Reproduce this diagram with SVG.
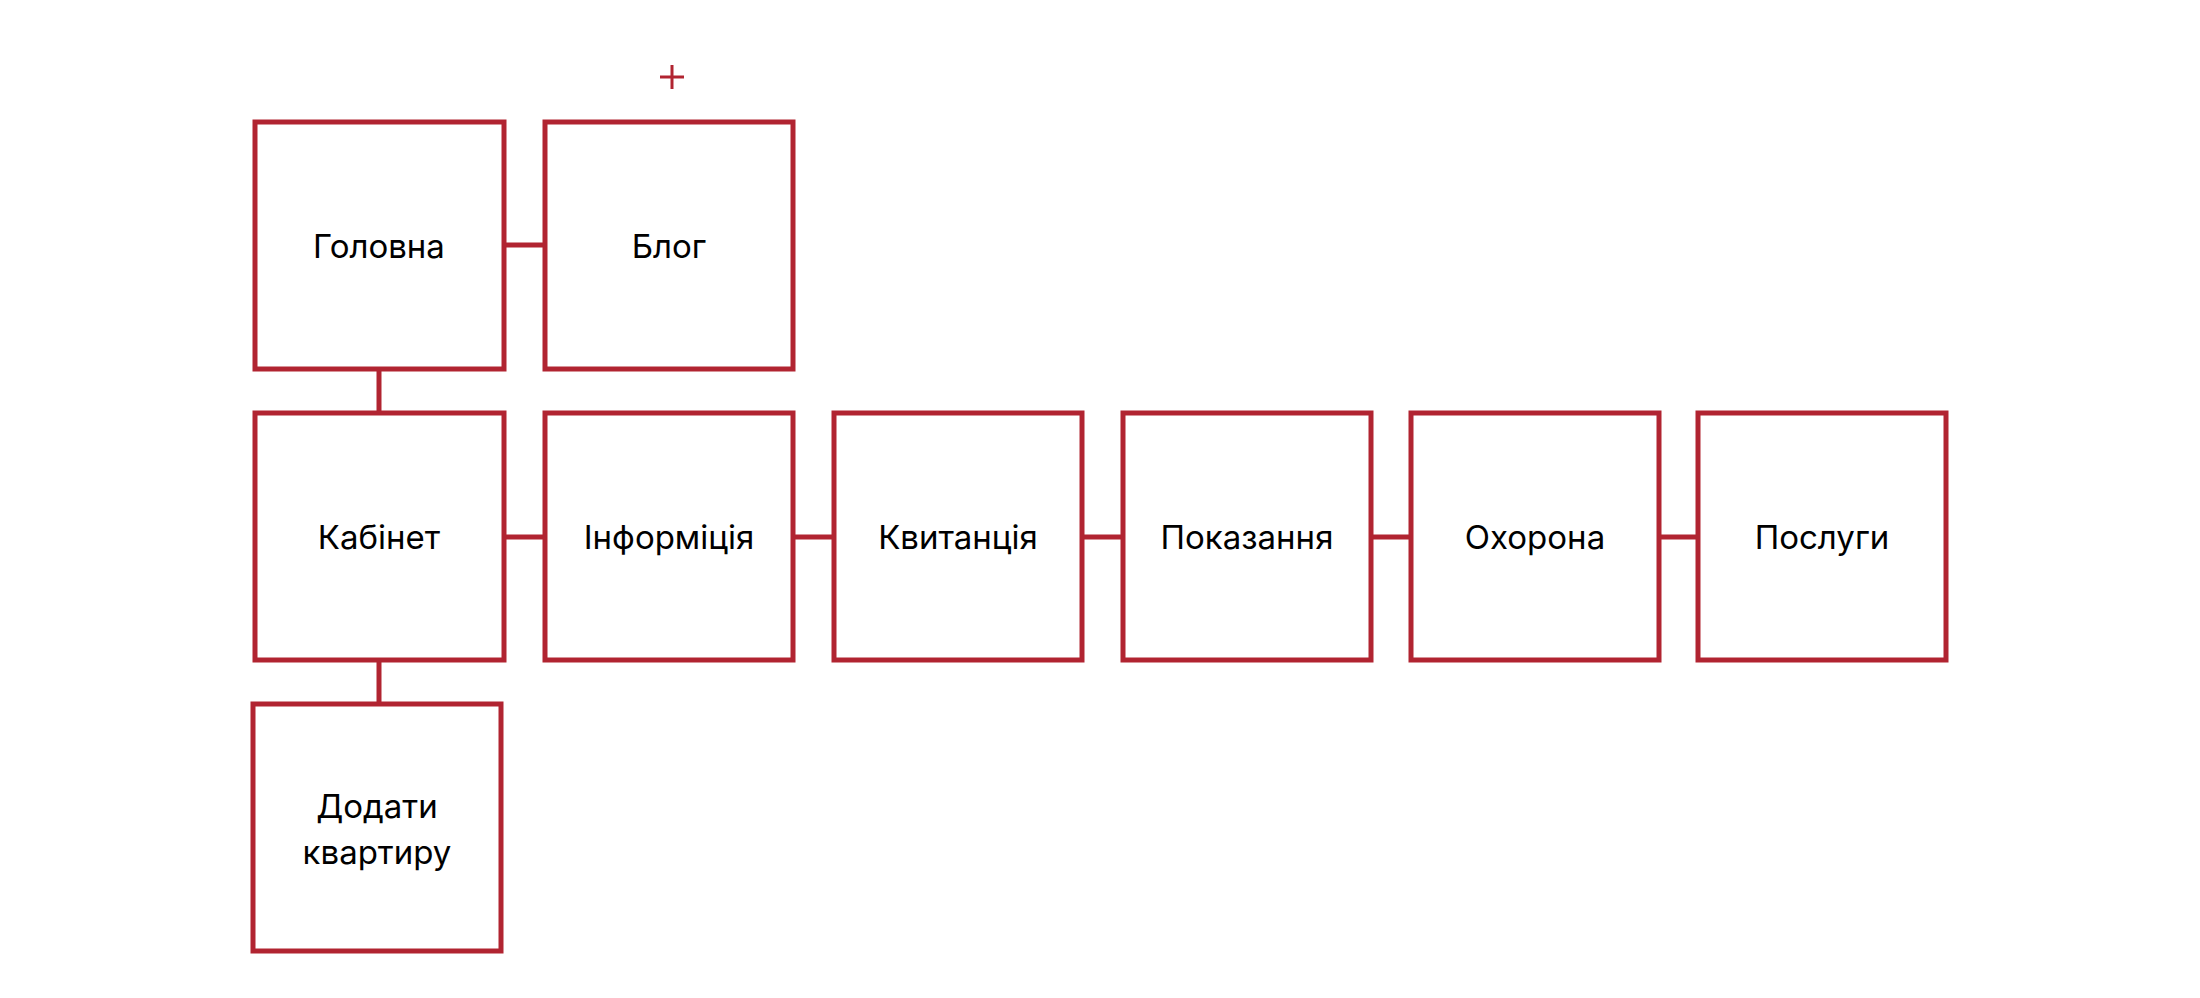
<svg xmlns="http://www.w3.org/2000/svg" width="2200" height="998" viewBox="0 0 2200 998">
<style>
.b{fill:#fff;stroke:#B12431;stroke-width:5}
.c line{stroke:#B12431;stroke-width:5}
text{font-family:Inter,"Noto Sans",sans-serif;font-size:33px;fill:#000;text-anchor:middle;dominant-baseline:central}
</style>
<rect width="2200" height="998" fill="#fff"/>
<g class="c">
<line x1="504" y1="245" x2="545" y2="245"/>
<line x1="379" y1="369" x2="379" y2="413"/>
<line x1="379" y1="659" x2="379" y2="704"/>
<line x1="504" y1="537" x2="545" y2="537"/>
<line x1="793" y1="537" x2="834" y2="537"/>
<line x1="1082" y1="537" x2="1123" y2="537"/>
<line x1="1371" y1="537" x2="1411" y2="537"/>
<line x1="1659" y1="537" x2="1698" y2="537"/>
<line x1="660" y1="77" x2="684" y2="77" style="stroke-width:3"/>
<line x1="672" y1="65" x2="672" y2="89" style="stroke-width:3"/>
</g>
<g id="holovna"><rect class="b" x="255" y="122" width="249" height="247"/><text x="379" y="246">Головна</text></g>
<g id="blog"><rect class="b" x="545" y="122" width="248" height="247"/><text x="669" y="246">Блог</text></g>
<g id="kabinet"><rect class="b" x="255" y="413" width="249" height="247"/><text x="379" y="537">Кабінет</text></g>
<g id="info"><rect class="b" x="545" y="413" width="248" height="247"/><text x="669" y="537">Інформіція</text></g>
<g id="kvyt"><rect class="b" x="834" y="413" width="248" height="247"/><text x="958" y="537">Квитанція</text></g>
<g id="pokaz"><rect class="b" x="1123" y="413" width="248" height="247"/><text x="1247" y="537">Показання</text></g>
<g id="okhorona"><rect class="b" x="1411" y="413" width="248" height="247"/><text x="1535" y="537">Охорона</text></g>
<g id="posluhy"><rect class="b" x="1698" y="413" width="248" height="247"/><text x="1822" y="537">Послуги</text></g>
<g id="dodaty"><rect class="b" x="253" y="704" width="248" height="247"/><text x="377" y="806">Додати</text><text x="377" y="852">квартиру</text></g>
</svg>
